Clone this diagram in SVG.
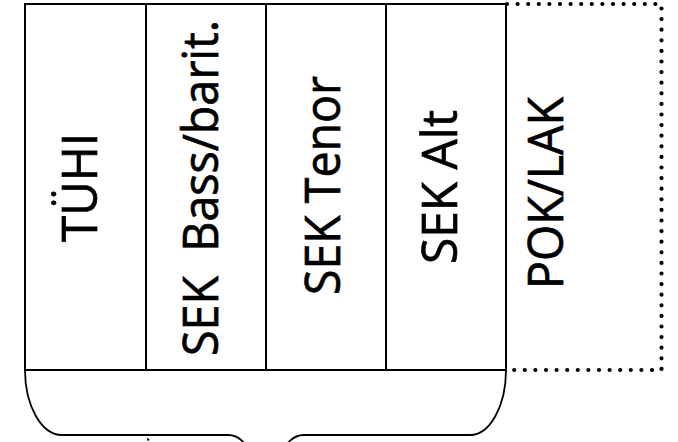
<svg xmlns="http://www.w3.org/2000/svg" width="678" height="442" viewBox="0 0 678 442">
  <style>
    .cell { fill: #ffffff; stroke: #000000; stroke-width: 2; }
    .dot { fill: none; stroke: #000000; stroke-width: 4.2; stroke-linecap: round; stroke-dasharray: 0 10.6; }
    .lbl { font-family: "Open Sans", "Liberation Sans", sans-serif; font-size: 49px; fill: #000000; stroke: #000000; stroke-width: 0.7; text-anchor: middle; white-space: pre; }
    .brace { fill: none; stroke: #000000; stroke-width: 1.8; }
  </style>
  <rect width="678" height="442" fill="#ffffff"/>
  <g id="pok-lak">
    <path class="dot" d="M507,4 L661.5,4 L661.5,370 L507,370"/>
    <text class="lbl" transform="translate(563,193) rotate(-90)" textLength="192" lengthAdjust="spacingAndGlyphs">POK/LAK</text>
  </g>
  <g id="tuhi">
    <rect class="cell" x="25" y="4" width="121" height="366"/>
    <text class="lbl" transform="translate(97,187.5) rotate(-90)" textLength="109" lengthAdjust="spacingAndGlyphs">TÜHI</text>
  </g>
  <g id="sek-bass">
    <rect class="cell" x="146" y="4" width="120" height="366"/>
    <text class="lbl" transform="translate(218,188) rotate(-90)" textLength="336" lengthAdjust="spacingAndGlyphs">SEK  Bass/barit.</text>
  </g>
  <g id="sek-tenor">
    <rect class="cell" x="266" y="4" width="120" height="366"/>
    <text class="lbl" transform="translate(340,185.5) rotate(-90)" textLength="219" lengthAdjust="spacingAndGlyphs">SEK Tenor</text>
  </g>
  <g id="sek-alt">
    <rect class="cell" x="386" y="4" width="120" height="366"/>
    <text class="lbl" transform="translate(457,187) rotate(-90)" textLength="154" lengthAdjust="spacingAndGlyphs">SEK Alt</text>
  </g>
  <g id="connectors">
    <path class="brace" d="M25,370 A37,65 0 0 0 62,435 L228,435 A20,20 0 0 1 248,455"/>
    <path class="brace" d="M284,455 A20,20 0 0 1 304,435 L470,435 A36,65 0 0 0 506,370"/>
    <path d="M147,437.5 L150,440 L147.5,441 Z" fill="#000000"/>
  </g>
</svg>
